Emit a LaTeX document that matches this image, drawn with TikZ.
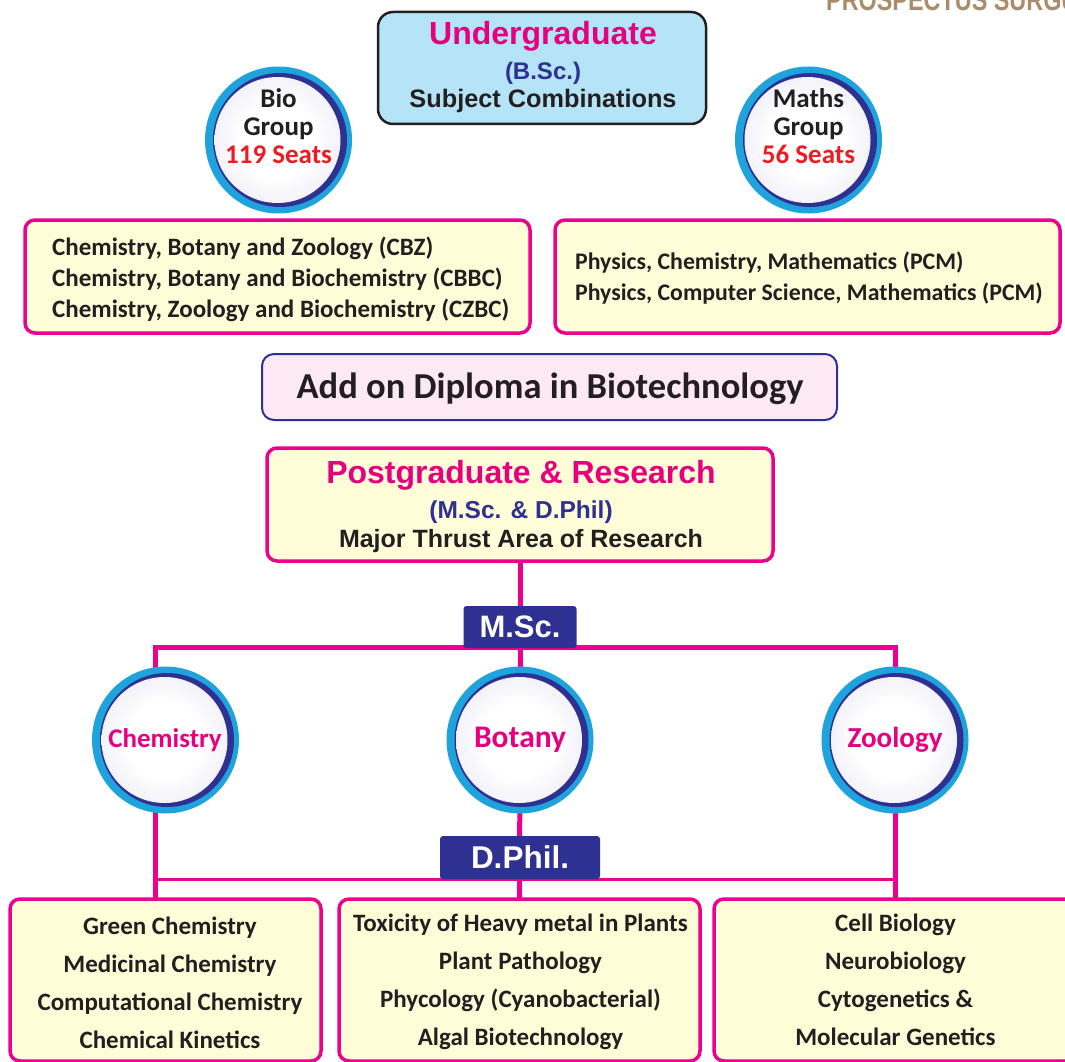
\documentclass[tikz,border=0pt]{standalone}
\usepackage{fontspec}
\setmainfont{Carlito}
\newfontfamily\hfont{Liberation Sans}
\usetikzlibrary{backgrounds}
\definecolor{mag}{HTML}{EC008C}
\definecolor{magtxt}{HTML}{E6007E}
\definecolor{navy}{HTML}{2E3192}
\definecolor{cyanring}{HTML}{1FA3DC}
\definecolor{lav}{HTML}{D3D1EA}
\definecolor{ylw}{HTML}{FFFCD8}
\definecolor{skyb}{HTML}{B5E4F8}
\definecolor{pinkf}{HTML}{FCE9F3}
\definecolor{seatred}{HTML}{ED1C24}
\definecolor{txt}{HTML}{231F20}
\definecolor{brownh}{HTML}{A88C6C}
\pgfdeclareradialshading{discshade}{\pgfpoint{0bp}{0bp}}{color(0bp)=(white); color(15bp)=(white); color(50bp)=(lav)}
\newcommand\fs[2]{\fontsize{#1}{#2}\selectfont}
\newcommand\ringnode[3]{%
  \node[circle, fill=cyanring, minimum size=147, inner sep=0, outer sep=0] (#1) at (#2,#3) {};
  \node[circle, fill=navy, minimum size=134, inner sep=0, outer sep=0] (#1n) at ([xshift=1.5pt]#1.center) {};
  \node[circle, shading=discshade, minimum size=126, inner sep=0, outer sep=0] (#1i) at ([xshift=-1pt]#1.center) {};}
\begin{document}
\begin{tikzpicture}[x=1pt,y=-1pt,
  ybox/.style={draw=mag, line width=3.5, fill=ylw, rounded corners=10, inner sep=0, outer sep=0, anchor=north west},
  navybox/.style={fill=navy, rounded corners=3, inner sep=0, outer sep=0, anchor=north west},
  link/.style={draw=mag, line width=5},
  thinlink/.style={draw=mag, line width=3},
  boxtxt/.style={font=\bfseries\fs{25}{25}, text=txt, inner sep=0},
  circtxt/.style={font=\bfseries\fs{27}{28}, text=txt, align=center, inner sep=0},
  subjtxt/.style={font=\bfseries\fs{29}{29}, text=magtxt, inner sep=0}]
\useasboundingbox (0,0) rectangle (1065,1062);
\clip (0,0) rectangle (1065,1062);

% header (cropped at the top edge)
\node[anchor=base west, font=\hfont\bfseries\fs{30}{30}, text=brownh, xscale=0.78, inner sep=0] (hdr) at (826,11) {PROSPECTUS SURGUJA};

% Undergraduate
\node[draw=txt, line width=2.5, fill=skyb, rounded corners=15, inner sep=0, outer sep=0, anchor=north west,
  minimum width=328, minimum height=112] (ug) at (378,12) {};
\node[anchor=base, font=\hfont\bfseries\fs{32}{32}, text=magtxt, inner sep=0] (ug1) at (543,45) {Undergraduate};
\node[anchor=base, font=\hfont\bfseries\fs{24}{24}, text=navy, inner sep=0] (ug2) at (543,80) {(B.Sc.)};
\node[anchor=base, font=\hfont\bfseries\fs{25.3}{25}, text=txt, inner sep=0] (ug3) at (543,108) {Subject Combinations};

% group circles
\ringnode{bio}{278.5}{140}
\node[circtxt] (biot) at (278.5,126) {Bio\\Group\\\textcolor{seatred}{119 Seats}};
\ringnode{mat}{808.5}{140}
\node[circtxt] (matt) at (808.5,126) {Maths\\Group\\\textcolor{seatred}{56 Seats}};

% combination boxes
\node[ybox, minimum width=505, minimum height=113] (biob) at (25,220) {};
\node[boxtxt, anchor=base west] (b1) at (52,255) {Chemistry, Botany and Zoology (CBZ)};
\node[boxtxt, anchor=base west] (b2) at (52,286) {Chemistry, Botany and Biochemistry (CBBC)};
\node[boxtxt, anchor=base west] (b3) at (52,317) {Chemistry, Zoology and Biochemistry (CZBC)};
\node[ybox, minimum width=505, minimum height=113] (matb) at (555,220) {};
\node[boxtxt, font=\bfseries\fs{23.8}{24}, anchor=base west] (m1) at (575,269) {Physics, Chemistry, Mathematics (PCM)};
\node[boxtxt, font=\bfseries\fs{23.8}{24}, anchor=base west] (m2) at (575,300) {Physics, Computer Science, Mathematics (PCM)};

% add on diploma
\node[draw=navy, line width=2, fill=pinkf, rounded corners=12, inner sep=0, outer sep=0, anchor=north west,
  minimum width=575, minimum height=66] (dip) at (262,354) {};
\node[anchor=base, font=\bfseries\fs{36.5}{36}, text=txt, inner sep=0] (dipt) at (550,398) {Add on Diploma in Biotechnology};

% postgraduate
\node[ybox, minimum width=506, minimum height=113] (pg) at (267,448) {};
\node[anchor=base, font=\hfont\bfseries\fs{32}{32}, text=magtxt, inner sep=0] (pg1) at (521,483) {Postgraduate \& Research};
\node[anchor=base, font=\hfont\bfseries\fs{24.5}{24}, text=navy, inner sep=0] (pg2) at (521,518) {(M.Sc. \& D.Phil)};
\node[anchor=base, font=\hfont\bfseries\fs{25}{25}, text=txt, inner sep=0] (pg3) at (521,547) {Major Thrust Area of Research};

% M.Sc.
\node[navybox, minimum width=113, minimum height=42] (msc) at (463.5,606) {};
\node[font=\hfont\bfseries\fs{31}{31}, text=white, inner sep=0] (msct) at (msc.center) {M.Sc.};

% subject circles
\ringnode{chem}{165.5}{740}
\node[subjtxt, font=\bfseries\fs{27}{27}] (chemt) at (165,740) {Chemistry};
\ringnode{bot}{520}{740}
\node[subjtxt, font=\bfseries\fs{31.5}{31}] (bott) at (520,740) {Botany};
\ringnode{zoo}{895}{740}
\node[subjtxt] (zoot) at (895,740) {Zoology};

% D.Phil.
\node[navybox, minimum width=160, minimum height=43] (dph) at (440,836) {};
\node[font=\hfont\bfseries\fs{31.5}{31}, text=white, inner sep=0] (dpht) at (dph.center) {D.Phil.};

% bottom boxes
\node[ybox, minimum width=311, minimum height=162] (cb) at (10,899) {};
\node[ybox, minimum width=361, minimum height=162] (bb) at (339,899) {};
\node[ybox, minimum width=361, minimum height=162] (zb) at (714,899) {};
\foreach \t [count=\i] in {Green Chemistry, Medicinal Chemistry, Computational Chemistry, Chemical Kinetics}
  \node[boxtxt, anchor=base] (c\i) at (170, 896+38*\i) {\t};
\foreach \t [count=\i] in {Toxicity of Heavy metal in Plants, Plant Pathology, Phycology (Cyanobacterial), Algal Biotechnology}
  \node[boxtxt, anchor=base] (p\i) at (520.5, 893+38*\i) {\t};
\foreach \t [count=\i] in {Cell Biology, Neurobiology, Cytogenetics \&, Molecular Genetics}
  \node[boxtxt, anchor=base] (z\i) at (895.5, 893+38*\i) {\t};

% connectors
\coordinate (hl) at (155,647);
\coordinate (hr) at (895,647);
\coordinate (dl) at (155,879);
\coordinate (dr) at (895,879);
\begin{scope}[on background layer]
  \draw[link] (pg.south) -- (msc.north);
  \draw[link] (msc.south) -- (bot.center);
  \draw[link, line cap=rect] (hl) -- (hr);
  \draw[link] (hl) -- (hl |- chem.center);
  \draw[link] (hr) -- (zoo.center);
  \draw[link] (hl |- chem.center) -- (hl |- cb.north);
  \draw[link] (bot.center) -- (bb.north);
  \draw[link] (zoo.center) -- (zoo.center |- zb.north);
  \draw[thinlink] (dl) -- (dr);
\end{scope}
\end{tikzpicture}
\end{document}
